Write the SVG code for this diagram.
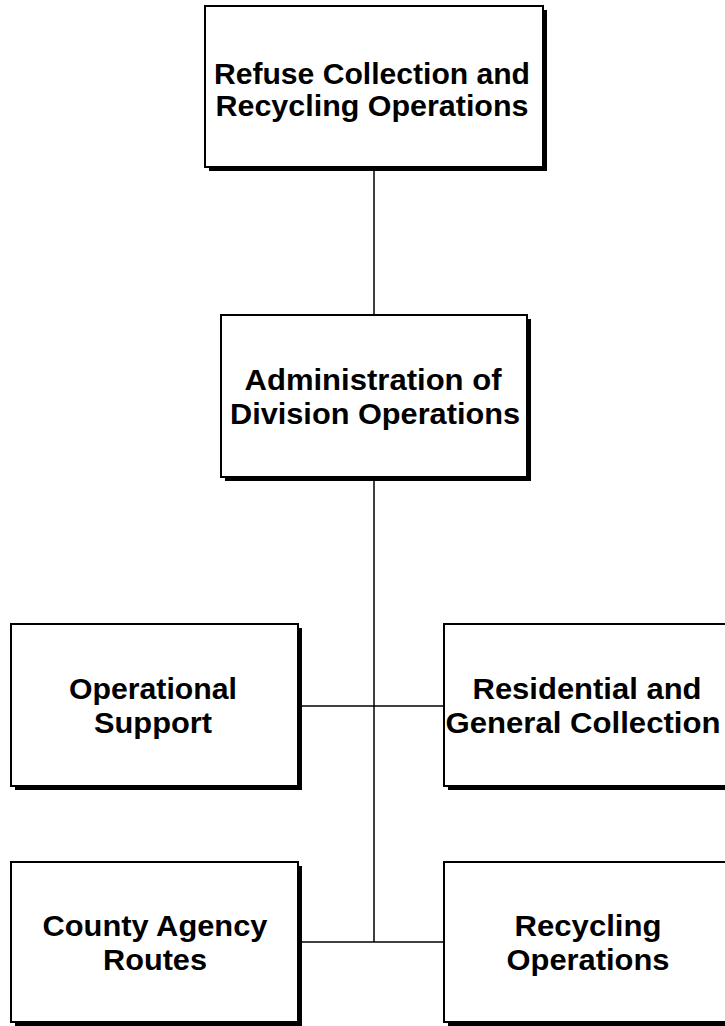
<svg xmlns="http://www.w3.org/2000/svg" width="725" height="1026" viewBox="0 0 725 1026">
<style>
.shadow{fill:#000}
.box{fill:#fff;stroke:#000;stroke-width:2}
.lbl{font-family:"Liberation Sans",Arial,sans-serif;font-weight:bold;font-size:29px;fill:#000;text-anchor:middle}
.conn{stroke:#000;stroke-width:1.5;fill:none}
</style>
<rect width="725" height="1026" fill="#fff"/>
<g id="connectors">
<line class="conn" x1="374" y1="167" x2="374" y2="315"/>
<line class="conn" x1="374" y1="477" x2="374" y2="942"/>
<line class="conn" x1="298" y1="706" x2="444" y2="706"/>
<line class="conn" x1="298" y1="942" x2="444" y2="942"/>
</g>
<g id="node-refuse">
<rect class="shadow" x="209" y="10" width="338" height="161"/>
<rect class="box" x="205" y="6" width="338" height="161"/>
<text class="lbl" x="372" y="84" textLength="316" lengthAdjust="spacingAndGlyphs">Refuse Collection and</text>
<text class="lbl" x="372" y="116" textLength="313" lengthAdjust="spacingAndGlyphs">Recycling Operations</text>
</g>
<g id="node-admin">
<rect class="shadow" x="225" y="319" width="306" height="162"/>
<rect class="box" x="221" y="315" width="306" height="162"/>
<text class="lbl" x="373" y="390" textLength="257" lengthAdjust="spacingAndGlyphs">Administration of</text>
<text class="lbl" x="375" y="424" textLength="290" lengthAdjust="spacingAndGlyphs">Division Operations</text>
</g>
<g id="node-opsupport">
<rect class="shadow" x="15" y="628" width="287" height="162"/>
<rect class="box" x="11" y="624" width="287" height="162"/>
<text class="lbl" x="153" y="699" textLength="168" lengthAdjust="spacingAndGlyphs">Operational</text>
<text class="lbl" x="153" y="733" textLength="118" lengthAdjust="spacingAndGlyphs">Support</text>
</g>
<g id="node-residential">
<rect class="shadow" x="448" y="628" width="287" height="162"/>
<rect class="box" x="444" y="624" width="287" height="162"/>
<text class="lbl" x="587" y="699" textLength="229" lengthAdjust="spacingAndGlyphs">Residential and</text>
<text class="lbl" x="583" y="733" textLength="275" lengthAdjust="spacingAndGlyphs">General Collection</text>
</g>
<g id="node-county">
<rect class="shadow" x="15" y="866" width="287" height="160"/>
<rect class="box" x="11" y="862" width="287" height="160"/>
<text class="lbl" x="155" y="936" textLength="225" lengthAdjust="spacingAndGlyphs">County Agency</text>
<text class="lbl" x="155" y="970" textLength="104" lengthAdjust="spacingAndGlyphs">Routes</text>
</g>
<g id="node-recycling">
<rect class="shadow" x="448" y="866" width="287" height="160"/>
<rect class="box" x="444" y="862" width="287" height="160"/>
<text class="lbl" x="588" y="936" textLength="147" lengthAdjust="spacingAndGlyphs">Recycling</text>
<text class="lbl" x="588" y="970" textLength="163" lengthAdjust="spacingAndGlyphs">Operations</text>
</g>
</svg>
